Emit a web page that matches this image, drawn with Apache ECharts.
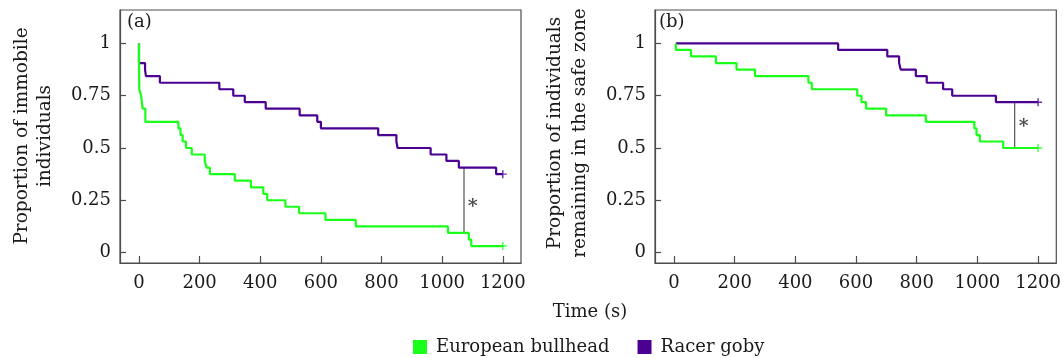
<!DOCTYPE html>
<html>
<head>
<meta charset="utf-8">
<script src="https://cdn.jsdelivr.net/npm/echarts@6/dist/echarts.min.js"></script>
<style>
html,body{margin:0;padding:0;background:#fff;}
#chart{width:1064px;height:358px;}
</style>
</head>
<body>
<div id="chart"></div>
<script>
// ---- data ----
const seriesNames = ['European bullhead', 'Racer goby'];
const xTicks = [0, 200, 400, 600, 800, 1000, 1200];
const xTickLabels = ['0', '200', '400', '600', '800', '1000', '1200'];
const yTicks = [0, 0.25, 0.5, 0.75, 1];
const yTickLabels = ['0', '0.25', '0.5', '0.75', '1'];

// Panel (a): proportion of immobile individuals
const bullTimesA = [0, 0, 1, 7, 12, 21, 130, 137, 144, 155, 174, 217, 223, 234, 316, 369, 410, 423, 483, 528, 615, 715, 1019, 1088, 1096, 1200];
const bullSurvA  = [1, 0.906, 0.781, 0.750, 0.688, 0.625, 0.594, 0.562, 0.531, 0.500, 0.469, 0.438, 0.406, 0.375, 0.344, 0.312, 0.281, 0.250, 0.219, 0.188, 0.156, 0.125, 0.094, 0.062, 0.031, 0.031];
const gobyTimesA = [0, 0, 20, 23, 69, 265, 311, 349, 418, 530, 588, 600, 789, 849, 853, 962, 1014, 1055, 1178, 1200];
const gobySurvA  = [1, 0.906, 0.875, 0.844, 0.812, 0.781, 0.750, 0.719, 0.688, 0.656, 0.625, 0.594, 0.562, 0.531, 0.500, 0.469, 0.438, 0.406, 0.375, 0.375];

// Panel (b): proportion remaining in the safe zone
const bullTimesB = [6, 6, 56, 138, 206, 267, 443, 454, 604, 618, 633, 699, 830, 990, 997, 1008, 1085, 1200];
const bullSurvB  = [1, 0.969, 0.938, 0.906, 0.875, 0.844, 0.812, 0.781, 0.750, 0.719, 0.688, 0.656, 0.625, 0.594, 0.562, 0.531, 0.500, 0.500];
const gobyTimesB = [6, 541, 703, 742, 747, 797, 833, 887, 917, 1061, 1200];
const gobySurvB  = [1, 0.969, 0.938, 0.906, 0.875, 0.844, 0.812, 0.781, 0.750, 0.719, 0.719];

// significance brackets: [time, upper, lower] and asterisk positions [time, value]
const bracketA = [1072, 0.406, 0.094];
const starA = [1101, 0.235];
const bracketB = [1123, 0.719, 0.500];
const starB = [1153, 0.618];

const panelLabels = ['(a)', '(b)'];
const yNames = ['Proportion of immobile\nindividuals', 'Proportion of individuals\nremaining in the safe zone'];
const xName = 'Time (s)';

// ---- styling ----
const GREEN = '#1AFF1A';
const PURPLE = '#4B0092';
const FONT = 'DejaVu Serif';
const TXT = '#1a1a1a';
const AX = '#4d4d4d';

function pairs(t, s) { return t.map((v, i) => [v, s[i]]); }
const plusPath = 'path://M0,4.1H10V5.9H0Z M4.1,0H5.9V10H4.1Z';

function xAxisCfg(gi) {
  return {
    type: 'value', gridIndex: gi, min: -62.6, max: 1260,
    axisLine: { show: true, onZero: false, lineStyle: { color: AX, width: 1.2 } },
    splitLine: { show: false },
    axisTick: { show: true, inside: true, length: 7, customValues: xTicks, lineStyle: { color: AX, width: 1.2 } },
    axisLabel: { show: true, customValues: xTicks, margin: 11, fontFamily: FONT, fontSize: 18, color: TXT,
      formatter: v => { const i = xTicks.indexOf(v); return i >= 0 ? xTickLabels[i] : ''; } }
  };
}
function yAxisCfg(gi) {
  return {
    type: 'value', gridIndex: gi, min: -0.05, max: 1.16,
    axisLine: { show: true, onZero: false, lineStyle: { color: AX, width: 1.2 } },
    splitLine: { show: false },
    axisTick: { show: true, inside: true, length: 6, customValues: yTicks, lineStyle: { color: AX, width: 1.2 } },
    axisLabel: { show: true, customValues: yTicks, margin: 9, fontFamily: FONT, fontSize: 18, color: TXT,
      formatter: v => { const i = yTicks.indexOf(v); return i >= 0 ? yTickLabels[i] : ''; } }
  };
}
function stepSeries(name, gi, data, color) {
  return {
    type: 'line', name: name, xAxisIndex: gi, yAxisIndex: gi, data: data, step: 'end',
    symbol: 'none', color: color, lineStyle: { color: color, width: 2.2 }, z: 3
  };
}
function censorSeries(gi, point, color) {
  return {
    type: 'scatter', xAxisIndex: gi, yAxisIndex: gi, data: [point], symbol: plusPath, symbolSize: 8,
    itemStyle: { color: color }, z: 4, silent: true
  };
}
function bracketSeries(gi, b) {
  return {
    type: 'line', xAxisIndex: gi, yAxisIndex: gi, data: [[b[0], b[1]], [b[0], b[2]]],
    symbol: 'none', lineStyle: { color: '#333', width: 1 }, z: 2, silent: true
  };
}
function starSeries(gi, s) {
  return {
    type: 'scatter', xAxisIndex: gi, yAxisIndex: gi, data: [s], symbolSize: 0, silent: true,
    label: { show: true, position: 'inside', formatter: '*', fontFamily: FONT, fontSize: 19, fontWeight: 'bold', color: TXT, offset: [0, 4] }
  };
}

const chart = echarts.init(document.getElementById('chart'), null, { renderer: 'canvas' });
chart.setOption({
  animation: false,
  backgroundColor: '#fff',
  grid: [
    { left: 120, top: 10, width: 401, height: 253, show: true, borderColor: AX, borderWidth: 1.2, backgroundColor: 'transparent' },
    { left: 655, top: 10, width: 402, height: 253, show: true, borderColor: AX, borderWidth: 1.2, backgroundColor: 'transparent' }
  ],
  xAxis: [xAxisCfg(0), xAxisCfg(1)],
  yAxis: [yAxisCfg(0), yAxisCfg(1)],
  legend: {
    data: seriesNames, left: 408, top: 333, icon: 'rect', itemWidth: 14, itemHeight: 14, itemGap: 28,
    textStyle: { fontFamily: FONT, fontSize: 18, color: TXT, padding: [0, 0, 0, 4] }
  },
  graphic: [
    { type: 'text', left: 127, top: 13, style: { text: panelLabels[0], font: '18px "DejaVu Serif"', fill: TXT } },
    { type: 'text', left: 659, top: 13, style: { text: panelLabels[1], font: '18px "DejaVu Serif"', fill: TXT } },
    { type: 'text', x: 33.5, y: 136, rotation: Math.PI / 2,
      style: { text: yNames[0], font: '18.5px "DejaVu Serif"', fill: TXT, align: 'center', verticalAlign: 'middle', lineHeight: 23 } },
    { type: 'text', x: 567.5, y: 133, rotation: Math.PI / 2,
      style: { text: yNames[1], font: '18.5px "DejaVu Serif"', fill: TXT, align: 'center', verticalAlign: 'middle', lineHeight: 25 } },
    { type: 'text', x: 590, y: 312,
      style: { text: xName, font: '18px "DejaVu Serif"', fill: TXT, align: 'center', verticalAlign: 'middle' } }
  ],
  series: [
    stepSeries(seriesNames[1], 0, pairs(gobyTimesA, gobySurvA), PURPLE),
    stepSeries(seriesNames[0], 0, pairs(bullTimesA, bullSurvA), GREEN),
    stepSeries(seriesNames[1], 1, pairs(gobyTimesB, gobySurvB), PURPLE),
    stepSeries(seriesNames[0], 1, pairs(bullTimesB, bullSurvB), GREEN),
    censorSeries(0, [gobyTimesA[gobyTimesA.length - 1], gobySurvA[gobySurvA.length - 1]], PURPLE),
    censorSeries(0, [bullTimesA[bullTimesA.length - 1], bullSurvA[bullSurvA.length - 1]], GREEN),
    censorSeries(1, [gobyTimesB[gobyTimesB.length - 1], gobySurvB[gobySurvB.length - 1]], PURPLE),
    censorSeries(1, [bullTimesB[bullTimesB.length - 1], bullSurvB[bullSurvB.length - 1]], GREEN),
    bracketSeries(0, bracketA),
    bracketSeries(1, bracketB),
    starSeries(0, starA),
    starSeries(1, starB)
  ]
});
</script>
</body>
</html>
